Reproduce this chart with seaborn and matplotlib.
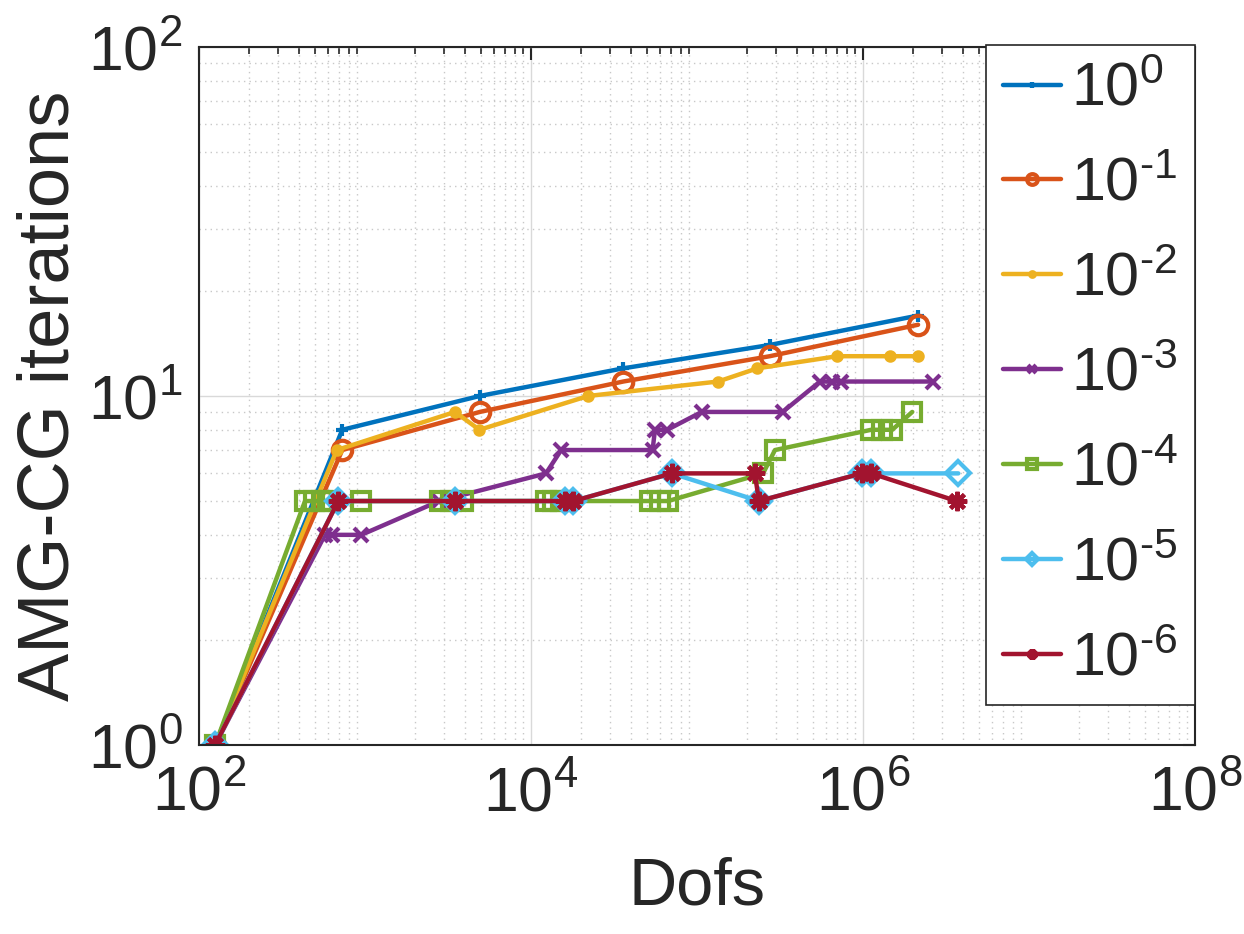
import numpy as np
import pandas as pd
import matplotlib
matplotlib.use("Agg")
import matplotlib.pyplot as plt
import seaborn as sns
from matplotlib.ticker import LogLocator, NullFormatter

# ==========================================================
#  DATA
# ==========================================================
labels = ["0", "-1", "-2", "-3", "-4", "-5", "-6"]

dofs_0 = [125, 729, 4913, 35937, 274625, 2146689]
iter_0 = [1, 8, 10, 12, 14, 17]

dofs_1 = [125, 729, 4913, 35937, 274625, 2146689]
iter_1 = [1, 7, 9, 11, 13, 16]

dofs_2 = [125, 676, 3480, 4890, 22100, 134000, 230800, 700000, 1455000, 2146689]
iter_2 = [1, 7, 9, 8, 10, 11, 12, 13, 13, 13]

dofs_3 = [125, 574, 630, 950, 2800, 12300, 15200, 54000, 55800, 66200,
          106700, 328000, 551000, 647000, 734000, 2650000]
iter_3 = [1, 4, 4, 4, 5, 6, 7, 7, 8, 8, 9, 9, 11, 11, 11, 11]

dofs_4 = [125, 435, 490, 550, 600, 950, 2830, 3300, 3900, 12300, 13500, 15200,
          52000, 60000, 67000, 250000, 295000, 1120000, 1300000, 1500000, 1980000]
iter_4 = [1, 5, 5, 5, 5, 5, 5, 5, 5, 5, 5, 5, 5, 5, 5, 6, 7, 8, 8, 8, 9]

dofs_5 = [125, 690, 3480, 16000, 18000, 70500, 236000, 982000, 1120000, 3750000]
iter_5 = [1, 5, 5, 5, 5, 6, 5, 6, 6, 6]

dofs_6 = [125, 690, 3480, 16000, 18000, 70500, 223000, 236000, 982000, 1120000, 3660000]
iter_6 = [1, 5, 5, 5, 5, 6, 6, 5, 6, 6, 5]

x_ticks = [1e2, 1e4, 1e6, 1e8]
x_ticklabels = ["2", "4", "6", "8"]
y_ticks = [1e0, 1e1, 1e2]
y_ticklabels = ["0", "1", "2"]

all_dofs = [dofs_0, dofs_1, dofs_2, dofs_3, dofs_4, dofs_5, dofs_6]
all_iters = [iter_0, iter_1, iter_2, iter_3, iter_4, iter_5, iter_6]

# MATLAB default colour order
colors = ["#0072BD", "#D95319", "#EDB120", "#7E2F8E", "#77AC30", "#4DBEEE", "#A2142F"]

# marker, size, filled
marker_styles = [
    ("+", 8, True),
    ("o", 14, False),
    ("o", 6, True),
    ("x", 10, True),
    ("s", 13, False),
    ("D", 12, False),
    ((8, 2, 0), 14, True),
]

frames = []
for lab, d, it in zip(labels, all_dofs, all_iters):
    frames.append(pd.DataFrame({"Dofs": d, "iters": it, "tol": lab}))
df = pd.concat(frames, ignore_index=True)


def pow10(s):
    # MATLAB style exponent: plain hyphen instead of a math minus
    s = s.replace("-", "\u2010")
    return r"$\mathdefault{10^{%s}}$" % s


# ==========================================================
#  PLOT
# ==========================================================
sns.set_style("white")
plt.rcParams["font.family"] = ["Liberation Sans", "DejaVu Sans"]
plt.rcParams["mathtext.fontset"] = "custom"
plt.rcParams["mathtext.rm"] = "Liberation Sans"
plt.rcParams["mathtext.it"] = "Liberation Sans"

fig = plt.figure(figsize=(12.44, 9.34), dpi=100)
ax = fig.add_axes([0.160, 0.2024, 0.8006, 0.7473])

ax.set_xscale("log")
ax.set_yscale("log")

for i, lab in enumerate(labels):
    sub = df[df["tol"] == lab]
    mk, ms, filled = marker_styles[i]
    sns.lineplot(
        data=sub, x="Dofs", y="iters", ax=ax,
        color=colors[i], linewidth=3.2, sort=False, estimator=None,
        marker=mk, markersize=ms,
        markerfacecolor=colors[i] if filled else "none",
        markeredgecolor=colors[i], markeredgewidth=3,
        label=pow10(lab),
    )

ax.set_xlim(1e2, 1e8)
ax.set_ylim(1e0, 1e2)
ax.set_xticks(x_ticks)
ax.set_xticklabels([pow10(t) for t in x_ticklabels])
ax.xaxis.set_minor_locator(LogLocator(base=10, subs=np.arange(2, 10), numticks=20))
ax.xaxis.set_minor_formatter(NullFormatter())
ax.set_yticks(y_ticks)
ax.set_yticklabels([pow10(t) for t in y_ticklabels])
ax.yaxis.set_minor_locator(LogLocator(base=10, subs=np.arange(2, 10), numticks=20))
ax.yaxis.set_minor_formatter(NullFormatter())

ax.grid(True, which="major", color="#d9d9d9", linewidth=1.0, linestyle="-")
ax.grid(True, which="minor", color="#c8c8c8", linewidth=1.0, linestyle=(0, (1, 3)))
ax.set_axisbelow(True)

for sp in ax.spines.values():
    sp.set_color("#262626")
    sp.set_linewidth(1.5)
ax.tick_params(which="both", direction="in", top=True, right=True,
               colors="#262626", labelsize=45)
ax.tick_params(which="major", length=9, width=1.5)
ax.tick_params(axis="x", which="major", pad=14)
ax.tick_params(axis="y", which="major", pad=12)
ax.tick_params(which="minor", length=5, width=1.2)

ax.set_xlabel("Dofs", fontsize=48, color="#262626", labelpad=24)
ax.set_ylabel("AMG-CG iterations", fontsize=52, color="#262626", labelpad=3)

leg = ax.legend(loc="upper right", bbox_to_anchor=(1.0, 1.003), borderaxespad=0,
                fontsize=44, frameon=True, fancybox=False, handlelength=0.95,
                handletextpad=0.15, labelspacing=0.62, borderpad=0.28,
                markerscale=0.55)
leg.get_frame().set_edgecolor("#262626")
leg.get_frame().set_linewidth(1.2)
leg.get_frame().set_alpha(1.0)

fig.savefig("out.png", dpi=100)
